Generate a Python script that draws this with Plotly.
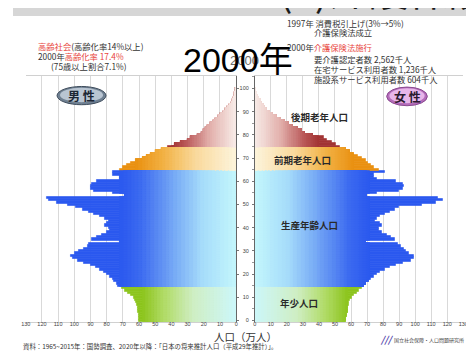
import plotly.graph_objects as go

# ---------------- data (万人) ----------------
AGES = list(range(0, 101))
MALE = [60, 60, 60.2, 60.5, 60.8, 61, 61, 61.2, 61.8, 62.5,
        63.5, 65, 67, 69, 71, 73, 74, 75.5, 76.5, 78,
        80, 82, 84, 87, 90, 94, 98, 101, 102, 100,
        97, 94, 92, 91, 72, 89, 86, 83, 80, 78,
        79, 81, 80, 79, 81, 84, 88, 91, 95, 99,
        104, 111, 116, 117, 69, 76, 88, 90, 90, 89,
        86, 72, 72, 76, 76, 72, 70, 67.5, 65, 62,
        58, 55, 52.5, 50, 46, 42, 38, 34, 30, 28,
        24, 21, 20, 19, 17.5, 15.5, 14, 12.5, 11, 9.5,
        8, 6.3, 5, 3.8, 3, 2.3, 1.6, 1.1, 0.8, 0.5, 0.3]
FEMALE = [57, 57, 57.2, 57.5, 57.7, 58, 58, 58.3, 58.8, 59.5,
          60.5, 62, 63.5, 65, 66.5, 68, 69.5, 71, 72.5, 74,
          76, 78, 81, 84, 88, 92, 97, 99, 99, 96,
          94, 93, 91, 89, 69, 87, 85, 82, 79, 77,
          77, 79, 78, 75, 76, 78, 81, 84, 87, 90,
          104, 113, 117, 114, 70, 76, 90, 92, 93, 92,
          88, 76, 74, 74, 81, 77, 74.5, 72.5, 70.5, 69,
          67, 64.5, 62, 59.5, 57, 53, 50.5, 48, 45, 43,
          36, 31, 29, 26.5, 24, 21, 19, 16.5, 14, 11.5,
          9.5, 7.5, 6.5, 5.5, 4.5, 3.6, 2.6, 1.8, 1.2, 0.8, 0.5]
X_TICKS = list(range(0, 131, 10))
AGE_TICKS = list(range(0, 101, 10))
GROUP_LABELS = ["年少人口", "生産年齢人口", "前期老年人口", "後期老年人口"]

# ---------------- styling ----------------
W, H = 474, 354
def px(x): return x / W
def py(y): return 1 - y / H

GRADS = {
    "young": (58, [(0, "#cdf7fa"), (0.45, "#cfeec4"), (0.75, "#b2dc6a"), (1, "#8cc41c")]),
    "work": (72, [(0, "#c4f7fc"), (0.3, "#a4dafa"), (0.58, "#6c9ef4"), (0.82, "#3c6af0"), (1, "#2a58ef")]),
    "old1": (62, [(0, "#fdf4dc"), (0.4, "#f9d99c"), (0.72, "#f2b245"), (1, "#ea9010")]),
    "old2": (40, [(0, "#f8ece8"), (0.4, "#e2b0ac"), (0.75, "#bc5c5c"), (1, "#a23434")]),
}

def group(a):
    if a < 15: return "young"
    if a < 65: return "work"
    if a < 75: return "old1"
    return "old2"

def h2r(h): return [int(h[i:i + 2], 16) for i in (1, 3, 5)]

def cinterp(stops, t):
    t = max(0.0, min(1.0, t))
    for (p0, c0), (p1, c1) in zip(stops[:-1], stops[1:]):
        if t <= p1:
            f = 0 if p1 == p0 else (t - p0) / (p1 - p0)
            a, b = h2r(c0), h2r(c1)
            return "rgb(%d,%d,%d)" % tuple(round(a[i] + (b[i] - a[i]) * f) for i in range(3))
    return stops[-1][1]

N = 30
fig = go.Figure()
for vals, xa, ya in ((MALE, "x", "y"), (FEMALE, "x2", "y2")):
    cols = [cinterp(GRADS[group(a)][1], 1.0) for a in AGES]
    fig.add_trace(go.Bar(y=AGES, x=vals, orientation="h", xaxis=xa, yaxis=ya,
                         marker=dict(color=cols, line=dict(color=cols, width=0.6)),
                         width=1, hoverinfo="skip", showlegend=False))
    for j in range(N - 1, -1, -1):
        xs, cols = [], []
        for a, v in zip(AGES, vals):
            L, stops = GRADS[group(a)]
            xs.append(min(v, L * (j + 1) / N))
            cols.append(cinterp(stops, (j + 0.5) / N))
        fig.add_trace(go.Bar(y=AGES, x=xs, orientation="h", xaxis=xa, yaxis=ya,
                             marker=dict(color=cols, line=dict(color=cols, width=0.6)),
                             width=1, hoverinfo="skip", showlegend=False))

ydom = [py(315), py(68)]
yrange = [-0.71, 105.5]
tickfont = dict(size=5.5, color="#444", family="Liberation Sans, Arial")
common_x = dict(tickvals=X_TICKS, ticktext=[str(t) for t in X_TICKS], ticks="",
                ticklabelstandoff=-4,
                tickfont=tickfont, showgrid=True, gridcolor="#d9d9d9", gridwidth=0.7,
                zeroline=False, showline=True, linecolor="#d0d0d0", linewidth=0.8,
                mirror=True, fixedrange=True)
fig.update_layout(
    width=W, height=H, margin=dict(l=0, r=0, t=0, b=0),
    paper_bgcolor="white", plot_bgcolor="white",
    barmode="overlay", bargap=0,
    xaxis=dict(domain=[px(13), px(228)], range=[130, 0], anchor="y", **common_x),
    xaxis2=dict(domain=[px(247), px(460)], range=[0, 130], anchor="y2", **common_x),
    yaxis=dict(domain=ydom, range=yrange, anchor="x", side="right", showticklabels=False,
               tickvals=AGE_TICKS, ticks="outside", ticklen=2, tickcolor="#777",
               showgrid=False, zeroline=False, showline=True, linecolor="#666", linewidth=0.8,
               fixedrange=True),
    yaxis2=dict(domain=ydom, range=yrange, anchor="x2", side="left",
                tickvals=AGE_TICKS, ticktext=[str(t) for t in AGE_TICKS],
                tickfont=dict(size=5.5, color="#444", family="Liberation Sans, Arial"),
                ticks="outside", ticklen=2, tickcolor="#777", ticklabelstandoff=2,
                minor=dict(dtick=5, ticks="outside", ticklen=2, tickcolor="#999"),
                showgrid=False, zeroline=False, showline=True, linecolor="#666", linewidth=0.8,
                fixedrange=True),
)

JP = "Noto Sans CJK JP"
shapes = [
    dict(type="rect", xref="paper", yref="paper", x0=0, x1=1, y0=py(8), y1=1,
         fillcolor="#d6d6d6", line=dict(width=0), layer="below"),
    # badges
    dict(type="circle", xref="paper", yref="paper", x0=px(45), x1=px(95), y0=py(97), y1=py(78.7),
         fillcolor="#6f8092", line=dict(color="#3e4c5c", width=1)),
    dict(type="circle", xref="paper", yref="paper", x0=px(48), x1=px(92), y0=py(94.5), y1=py(80),
         fillcolor="#b9c5d2", line=dict(width=0)),
    dict(type="circle", xref="paper", yref="paper", x0=px(381.7), x1=px(423.3), y0=py(98), y1=py(79.3),
         fillcolor="#b46cba", line=dict(color="#8a4a90", width=1)),
    dict(type="circle", xref="paper", yref="paper", x0=px(384.5), x1=px(420.5), y0=py(95.5), y1=py(80.6),
         fillcolor="#e8b6ea", line=dict(width=0)),
]
fig.update_layout(shapes=shapes)

def ann(x, y, text, size, color="#333", xanchor="left", yanchor="middle", family=JP, **kw):
    fig.add_annotation(x=px(x), y=py(y), xref="paper", yref="paper", text=text,
                       showarrow=False, xanchor=xanchor, yanchor=yanchor,
                       font=dict(size=size, color=color, family=family), **kw)

RED = "#e8453c"
# top cropped title (only the lower part is visible, as in the reference)
ann(270, 12, "(1)介護保険制度", 40, color="#1a1a1a", yanchor="bottom")
# left notes
ann(23, 38.5, f"<span style='color:{RED}'>高齢社会</span>(高齢化率14%以上)", 8.3)
ann(23, 48.5, f"2000年<span style='color:{RED}'>高齢化率 17.4%</span>", 8.3)
ann(36.5, 58.5, "(75歳以上割合7.1%)", 8.3)
# right notes
ann(277.5, 15.5, "1997年 消費税引上げ(3%→5%)", 8.3)
ann(305, 24.5, "介護保険法成立", 8.3)
ann(277.5, 39.5, f"2000年<span style='color:{RED}'>介護保険法施行</span>", 8.3)
ann(305, 51, "要介護認定者数 2,562千人", 8.3)
ann(305, 61, "在宅サービス利用者数 1,236千人", 8.3)
ann(305, 71, "施設系サービス利用者数 604千人", 8.3)
# year
ann(236, 53, "2000", 13, color="#6a6a6a", xanchor="center", family="Liberation Sans, Arial")
ann(230, 52, "2000年", 34, color="#000", xanchor="center", family="Liberation Sans, " + JP)
# badges text
ann(70, 88, "<b>男 性</b>", 12, color="#1c2634", xanchor="center")
ann(402.5, 88.7, "<b>女 性</b>", 12, color="#2a1a2e", xanchor="center")
# group labels
ann(313, 109, f"<b>{GROUP_LABELS[3]}</b>", 9.5, color="#2a2a2a", xanchor="center")
ann(295.5, 152.7, f"<b>{GROUP_LABELS[2]}</b>", 9.5, color="#2a2a2a", xanchor="center")
ann(303, 218, f"<b>{GROUP_LABELS[1]}</b>", 9.5, color="#2a2a2a", xanchor="center")
ann(292, 296, f"<b>{GROUP_LABELS[0]}</b>", 9.5, color="#2a2a2a", xanchor="center")
# axis title & source
ann(238, 329, "人口（万人）", 10.5, color="#333", xanchor="center")
ann(8, 339.5, "資料：1965~2015年：国勢調査、2020年以降：「日本の将来推計人口（平成29年推計）」。", 6.4, color="#333")
ann(382, 332, "<b><i>///</i></b>", 9, color="#4a3ca8", xanchor="center")
ann(387, 332.5, "国立社会保障・人口問題研究所", 5, color="#444")

fig.write_html("out.html")
